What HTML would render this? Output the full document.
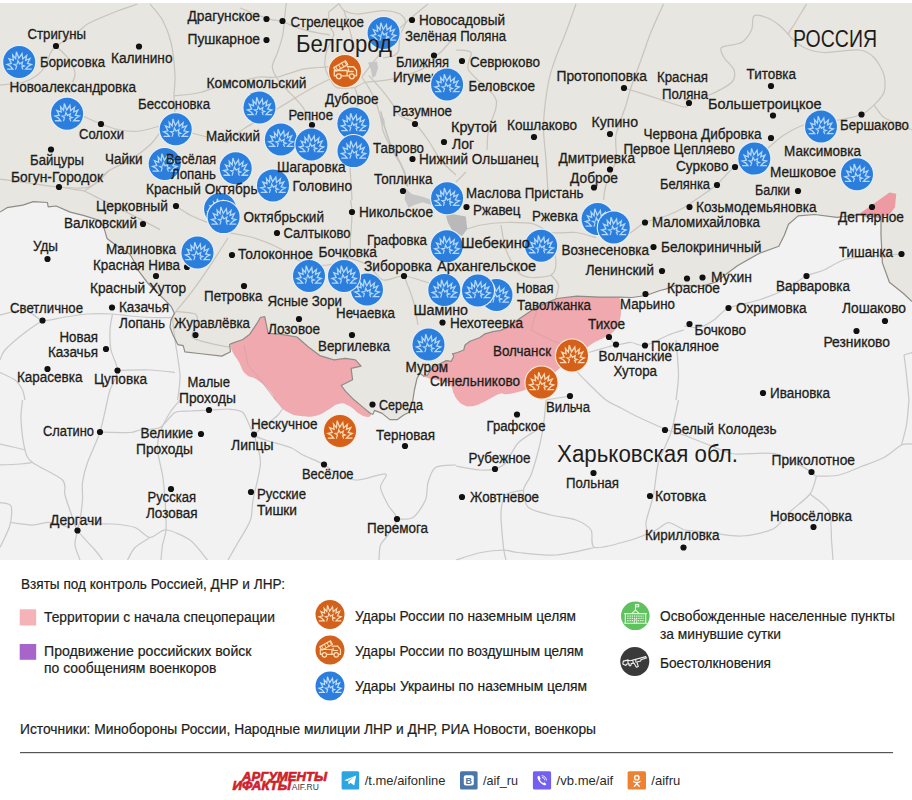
<!DOCTYPE html><html><head><meta charset="utf-8"><title>map</title><style>html,body{margin:0;padding:0;background:#fff}svg{display:block}text{font-family:"Liberation Sans",sans-serif;fill:#1d1d1b;stroke:#1d1d1b;stroke-width:0.3px}</style></head><body>
<svg width="912" height="800" viewBox="0 0 912 800">
<defs>
<g id="burst" transform="scale(0.93)" fill="none" stroke-linejoin="miter" stroke-linecap="round"><path d="M-12.6 7.6H-6.8L-9.4 4.6L-13 2.6L-8.4 1.6L-11 -3.6L-6.4 -1.8L-7 -7.4L-3.8 -3.6L-3 -11L-0.4 -4L3 -9L3.8 -3.2L8 -7L7 -1.8L11.6 -3.8L8.8 1.6L13.2 2.6L9.8 4.6L7 7.6H13" stroke-width="1.4"/><path d="M-3.8 7.6L-2.8 4.4L-5.4 2.6L-2.2 2.2L-1.4 -1.4L0.4 2L3.6 0L2.8 3.2L5.6 4.2L2.8 5.2L3.8 7.6" stroke-width="1.3"/></g>
<g id="bl"><circle r="17.1" fill="#e4f0fb"/><circle r="16" fill="#2c7edc"/><use href="#burst" stroke="#b2d8fc" y="0"/></g>
<g id="or"><circle r="17.1" fill="#fbeadb"/><circle r="16" fill="#d4601a"/><use href="#burst" stroke="#fbdcb8" y="0"/></g>
<g id="truck" transform="scale(1.07)" fill="none" stroke="#ffdcb2" stroke-width="1.25" stroke-linejoin="round" stroke-linecap="round"><path d="M-10 4.5V-0.5H2V4.5M2 -4H8L10.8 -0.5V4.5H8.8M-10 4.5H-8.2M-3.4 4.5H4"/><circle cx="-5.8" cy="5" r="2.3"/><circle cx="6.4" cy="5" r="2.3"/><path d="M-10.5 -3.2L0.5 -9.6L2.6 -6L-8.4 0.2Z"/><path d="M-8.8 -4.2L-6.8 -0.7M-6 -5.8L-4 -2.3M-3.2 -7.4L-1.2 -3.9M-0.4 -9L1.6 -5.5" stroke-width="1"/><path d="M3.2 -2V0.5H7.6"/></g>
<clipPath id="mapclip"><rect x="0" y="0" width="912" height="560.5"/></clipPath>
</defs>
<g clip-path="url(#mapclip)">
<rect x="0" y="0" width="912" height="560.5" fill="#f2f2f2"/>
<path d="M0.0 0.0 L912.0 0.0 L912.0 301.6 L912.0 301.6 L903.2 293.3 L889.4 282.2 L882.4 262.9 L881.0 235.3 L881.0 217.3 L870.0 216.5 L857.6 215.0 L836.8 217.3 L814.7 214.5 L798.2 215.9 L788.5 224.2 L784.3 235.3 L778.8 246.3 L759.5 253.2 L737.4 265.7 L715.3 282.2 L701.4 286.4 L676.6 285.0 L665.5 289.1 L660.0 290.5 L646.0 295.5 L632.0 297.5 L619.5 297.1 L619.5 297.1 L599.5 297.1 L576.7 296.2 L556.8 298.5 L536.8 307.1 L519.7 318.5 L508.3 327.0 L500.0 330.6 L493.8 331.3 L485.0 333.8 L480.0 337.5 L470.0 341.3 L465.0 345.0 L463.8 350.0 L457.5 352.5 L452.5 353.8 L453.8 356.3 L451.3 361.3 L446.3 360.6 L440.0 363.8 L432.5 367.5 L427.5 375.0 L423.8 376.3 L423.8 376.3 L420.0 373.1 L416.9 378.8 L414.4 390.0 L412.5 402.5 L408.8 412.5 L403.7 415.0 L397.5 419.6 L389.8 419.6 L382.2 413.4 L374.5 410.4 L373.0 414.2 L371.1 414.0 L371.1 414.0 L362.5 406.9 L354.0 399.8 L345.4 391.2 L341.2 385.5 L352.6 379.8 L351.1 368.4 L361.1 366.1 L355.4 359.9 L345.4 358.4 L334.0 359.9 L319.8 355.6 L308.4 347.0 L297.0 337.0 L280.0 334.2 L268.2 333.3 L266.5 325.4 L264.7 316.7 L260.4 317.5 L256.8 323.7 L249.8 334.2 L242.8 339.5 L230.5 343.9 L230.5 343.9 L229.6 344.7 L230.5 351.8 L221.8 356.1 L198.9 353.5 L184.9 351.8 L183.2 345.6 L177.9 344.7 L172.6 334.2 L170.0 327.2 L170.9 320.2 L174.4 313.2 L170.9 306.1 L160.4 295.6 L148.0 283.3 L137.5 269.3 L133.3 260.0 L129.8 254.2 L114.0 243.7 L107.0 238.4 L103.5 226.1 L98.2 220.0 L84.2 215.6 L70.2 212.1 L56.1 206.0 L48.2 206.8 L47.4 202.5 L33.3 201.6 L22.8 205.1 L7.0 207.7 L0.0 212.1Z" fill="#e8e6e0"/>
<path d="M137.5 4.0C134.7 5.0 124.5 8.2 117.5 11.0C110.5 13.8 93.5 20.6 87.5 24.0C81.5 27.4 79.4 31.9 75.0 35.0C70.6 38.1 59.5 43.3 56.0 46.0C52.5 48.7 51.4 51.3 50.0 54.0C48.6 56.7 47.8 62.1 46.0 65.0C44.2 67.9 40.8 72.5 37.5 75.0C34.2 77.5 27.8 81.1 22.5 82.5C17.2 83.9 3.2 84.6 0.0 85.0" fill="none" stroke="#c9c5be" stroke-width="1.25" stroke-linejoin="round"/>
<path d="M56.0 46.0C57.6 47.6 64.8 53.8 67.5 57.5C70.2 61.2 74.3 69.0 75.0 72.5C75.7 76.0 72.9 81.1 72.5 82.5" fill="none" stroke="#c9c5be" stroke-width="1.25" stroke-linejoin="round"/>
<path d="M150.0 4.0C151.8 6.2 159.6 14.6 162.5 20.0C165.4 25.4 169.2 34.8 171.0 42.5C172.8 50.2 174.6 67.5 175.0 75.0C175.4 82.5 174.0 90.7 174.0 96.0C174.0 101.3 174.9 110.2 175.0 112.5" fill="none" stroke="#c9c5be" stroke-width="1.25" stroke-linejoin="round"/>
<path d="M82.5 116.0C85.1 117.1 95.7 122.0 101.0 124.0C106.3 126.0 114.5 129.0 120.0 130.0C125.5 131.0 134.4 131.6 140.0 131.0C145.6 130.4 157.2 126.7 160.0 126.0" fill="none" stroke="#c9c5be" stroke-width="1.25" stroke-linejoin="round"/>
<path d="M160.0 132.5C158.6 134.3 154.2 141.1 150.0 145.0C145.8 148.9 135.6 156.5 130.0 160.0C124.4 163.5 114.2 167.2 110.0 170.0C105.8 172.8 103.2 177.5 100.0 180.0C96.8 182.5 93.2 186.5 87.5 187.5C81.8 188.5 67.8 187.7 59.0 187.0C50.2 186.3 33.3 183.6 25.0 182.5C16.7 181.4 3.5 179.5 0.0 179.0" fill="none" stroke="#c9c5be" stroke-width="1.25" stroke-linejoin="round"/>
<path d="M174.0 96.0C177.6 95.5 192.4 94.4 200.0 92.5C207.6 90.6 224.1 83.9 228.0 82.5" fill="none" stroke="#c9c5be" stroke-width="1.25" stroke-linejoin="round"/>
<path d="M190.0 132.5C195.3 133.9 222.7 141.1 228.0 142.5" fill="none" stroke="#c9c5be" stroke-width="1.25" stroke-linejoin="round"/>
<path d="M228.0 82.5C230.4 82.1 240.5 80.8 245.0 80.0C249.5 79.2 255.4 77.4 260.0 77.0C264.6 76.6 271.6 78.1 277.5 77.0C283.4 75.9 296.3 70.6 302.0 69.3C307.7 68.0 314.1 67.9 318.0 67.5C321.9 67.1 328.3 66.8 330.0 66.7" fill="none" stroke="#c9c5be" stroke-width="1.25" stroke-linejoin="round"/>
<path d="M286.3 2.6C286.1 4.7 285.1 13.0 284.6 17.5C284.1 22.0 283.8 30.1 282.8 35.0C281.8 39.9 279.0 48.2 277.5 52.6C276.0 57.0 272.3 63.0 272.3 66.7C272.3 70.4 275.3 75.6 277.5 79.0C279.7 82.4 285.5 88.3 288.0 91.0C290.5 93.7 292.8 95.5 295.0 98.0C297.2 100.5 301.5 105.0 303.9 108.8C306.3 112.6 310.9 122.7 312.0 125.0" fill="none" stroke="#c9c5be" stroke-width="1.25" stroke-linejoin="round"/>
<path d="M240.0 8.0C242.8 9.1 255.7 14.2 260.0 15.8C264.3 17.4 267.3 18.4 270.5 19.3C273.7 20.2 278.1 20.5 282.8 22.0C287.5 23.5 297.3 28.0 303.9 29.8C310.5 31.6 326.3 34.3 330.0 35.0" fill="none" stroke="#c9c5be" stroke-width="1.25" stroke-linejoin="round"/>
<path d="M339.0 3.5C339.7 4.5 341.3 9.0 344.0 10.5C346.7 12.0 352.6 14.0 358.0 14.0C363.4 14.0 376.9 10.5 382.8 10.5C388.7 10.5 396.8 12.3 400.0 14.0C403.2 15.7 405.6 19.9 405.6 22.8C405.6 25.7 401.0 31.1 400.0 35.0C399.0 38.9 399.5 48.0 398.6 50.9C397.7 53.8 395.5 55.0 393.3 56.0C391.1 57.0 384.3 57.6 382.8 57.9" fill="none" stroke="#c9c5be" stroke-width="1.25" stroke-linejoin="round"/>
<path d="M328.4 12.3C328.6 14.3 329.3 23.1 330.0 26.3C330.7 29.5 334.2 31.6 333.7 35.0C333.2 38.4 327.9 46.5 326.7 50.9C325.5 55.3 324.5 62.8 325.0 66.7C325.5 70.6 328.3 76.1 330.0 79.0C331.7 81.9 333.5 86.5 337.0 87.7C340.5 88.9 352.2 87.7 354.7 87.7" fill="none" stroke="#c9c5be" stroke-width="1.25" stroke-linejoin="round"/>
<path d="M328.4 12.3C329.9 11.1 337.5 4.7 339.0 3.5" fill="none" stroke="#c9c5be" stroke-width="1.25" stroke-linejoin="round"/>
<path d="M344.0 10.5C344.5 12.2 346.7 19.4 347.7 22.8C348.7 26.2 350.0 31.3 351.0 35.0C352.0 38.7 354.2 47.0 354.7 49.0" fill="none" stroke="#c9c5be" stroke-width="1.25" stroke-linejoin="round"/>
<path d="M330.0 79.0C327.6 80.2 317.5 85.0 312.6 87.7C307.7 90.4 299.9 95.0 295.0 98.0C290.1 101.0 282.4 105.8 277.5 108.8C272.6 111.8 264.6 116.6 260.0 119.3C255.4 122.0 249.5 125.1 245.0 128.0C240.5 130.9 230.4 138.3 228.0 140.0" fill="none" stroke="#c9c5be" stroke-width="1.25" stroke-linejoin="round"/>
<path d="M361.8 77.2C363.3 75.2 369.4 66.9 372.3 63.2C375.2 59.5 379.9 54.8 382.8 50.9C385.7 47.0 390.1 38.9 393.3 35.0C396.5 31.1 401.9 26.2 405.6 22.8C409.3 19.4 416.9 13.1 420.0 10.5C423.1 7.9 426.9 4.9 428.0 4.0" fill="none" stroke="#c9c5be" stroke-width="1.25" stroke-linejoin="round"/>
<path d="M354.7 87.7C356.2 87.0 361.4 83.5 365.3 82.5C369.2 81.5 377.9 81.4 382.8 80.7C387.7 80.0 394.8 78.7 400.0 77.2C405.2 75.7 415.2 72.1 420.0 70.0C424.8 67.9 432.0 63.1 434.0 62.0" fill="none" stroke="#c9c5be" stroke-width="1.25" stroke-linejoin="round"/>
<path d="M361.8 77.2C362.8 78.7 366.8 84.3 368.8 87.7C370.8 91.1 374.1 97.4 375.8 101.8C377.5 106.2 380.0 115.4 381.0 119.3C382.0 123.2 381.8 126.8 382.8 130.0C383.8 133.2 385.9 138.1 388.0 142.0C390.1 145.9 395.8 153.8 398.0 158.0C400.2 162.2 402.7 168.1 404.0 172.0C405.3 175.9 406.6 184.0 407.0 186.0" fill="none" stroke="#c9c5be" stroke-width="1.25" stroke-linejoin="round"/>
<path d="M368.8 75.4C370.8 77.6 379.4 87.0 382.8 91.2C386.2 95.4 390.9 101.9 393.3 105.3C395.7 108.7 397.0 113.3 400.0 115.8C403.0 118.3 410.5 119.4 414.4 122.8C418.3 126.2 424.3 134.8 428.0 140.0C431.7 145.2 436.6 155.1 440.5 160.0C444.4 164.9 453.8 172.9 456.0 175.0" fill="none" stroke="#c9c5be" stroke-width="1.25" stroke-linejoin="round"/>
<path d="M348.0 140.0C348.4 144.9 349.9 166.6 350.5 175.0C351.1 183.4 351.8 196.5 352.0 200.0" fill="none" stroke="#c9c5be" stroke-width="1.25" stroke-linejoin="round"/>
<path d="M456.0 35.0C453.8 37.5 443.6 49.6 440.5 52.5C437.4 55.4 434.9 55.1 434.0 55.5" fill="none" stroke="#c9c5be" stroke-width="1.25" stroke-linejoin="round"/>
<path d="M354.7 87.7C355.2 89.4 358.2 95.1 358.0 100.0C357.8 104.9 353.7 119.8 353.0 123.0" fill="none" stroke="#c9c5be" stroke-width="1.25" stroke-linejoin="round"/>
<path d="M576.0 4.0C574.6 7.9 568.8 24.6 566.0 32.0C563.2 39.4 558.5 50.0 556.0 57.0C553.5 64.0 550.3 72.5 548.5 82.0C546.7 91.5 543.9 114.1 543.5 125.0C543.1 135.9 545.3 149.5 546.0 160.0C546.7 170.5 548.1 194.4 548.5 200.0" fill="none" stroke="#c9c5be" stroke-width="1.25" stroke-linejoin="round"/>
<path d="M663.5 4.0C661.7 7.9 654.2 24.2 651.0 32.0C647.8 39.8 643.8 52.2 641.0 60.0C638.2 67.8 633.1 81.2 631.0 87.5C628.9 93.8 628.1 98.3 626.0 105.0C623.9 111.7 617.4 127.3 616.0 135.0C614.6 142.7 617.4 153.0 616.0 160.0C614.6 167.0 607.8 179.4 606.0 185.0C604.2 190.6 603.9 197.9 603.5 200.0" fill="none" stroke="#c9c5be" stroke-width="1.25" stroke-linejoin="round"/>
<path d="M624.0 88.0C628.5 89.4 647.6 95.3 656.0 98.0C664.4 100.7 679.4 106.3 684.0 107.0C688.6 107.7 688.3 103.6 689.0 103.0" fill="none" stroke="#c9c5be" stroke-width="1.25" stroke-linejoin="round"/>
<path d="M456.0 50.0C458.1 50.4 469.2 49.7 471.0 52.5C472.8 55.3 465.3 64.0 468.5 70.0C471.7 76.0 489.6 89.7 493.5 95.0C497.4 100.3 496.7 102.6 496.0 107.5C495.3 112.4 489.8 124.0 488.5 130.0C487.2 136.0 487.2 147.2 487.0 150.0" fill="none" stroke="#c9c5be" stroke-width="1.25" stroke-linejoin="round"/>
<path d="M456.0 182.0C457.4 180.6 464.6 173.4 466.0 172.0" fill="none" stroke="#c9c5be" stroke-width="1.25" stroke-linejoin="round"/>
<path d="M806.5 4.0C805.8 5.2 803.3 9.6 801.5 12.5C799.7 15.4 795.8 21.8 794.0 25.0C792.2 28.2 787.6 31.8 789.0 35.0C790.4 38.2 799.1 45.0 804.0 47.5C808.9 50.0 816.3 52.1 824.0 52.5C831.7 52.9 852.0 49.3 859.0 50.0C866.0 50.7 870.5 54.0 874.0 57.5C877.5 61.0 882.6 70.1 884.0 75.0C885.4 79.9 885.4 88.3 884.0 92.5C882.6 96.7 877.2 101.9 874.0 105.0C870.8 108.1 866.4 112.4 861.5 114.5C856.6 116.6 847.1 118.5 839.0 120.0C830.9 121.5 811.7 122.9 804.0 125.0C796.3 127.1 788.6 132.2 784.0 135.0C779.4 137.8 775.0 142.2 771.5 145.0C768.0 147.8 764.3 151.8 759.0 155.0C753.7 158.2 740.0 163.3 734.0 167.5C728.0 171.7 721.4 180.8 716.5 185.0C711.6 189.2 701.5 195.7 699.0 197.5" fill="none" stroke="#c9c5be" stroke-width="1.25" stroke-linejoin="round"/>
<path d="M789.0 35.0C787.6 33.6 782.2 27.5 779.0 25.0C775.8 22.5 770.0 18.8 766.5 17.5C763.0 16.2 756.1 14.2 754.0 16.0C751.9 17.8 753.3 26.3 751.5 30.0C749.7 33.7 745.7 40.0 741.5 42.5C737.3 45.0 724.0 45.4 721.5 47.5C719.0 49.6 722.2 54.3 724.0 57.5C725.8 60.7 732.9 66.5 734.0 70.0C735.1 73.5 735.0 79.0 731.5 82.5C728.0 86.0 715.7 92.5 709.0 95.0C702.3 97.5 687.5 99.3 684.0 100.0" fill="none" stroke="#c9c5be" stroke-width="1.25" stroke-linejoin="round"/>
<path d="M874.0 105.0C875.4 106.8 880.1 114.7 884.0 117.5C887.9 120.3 897.6 123.2 901.5 125.0C905.4 126.8 910.5 129.3 912.0 130.0" fill="none" stroke="#c9c5be" stroke-width="1.25" stroke-linejoin="round"/>
<path d="M59.0 187.0C61.1 187.3 70.2 188.7 73.7 189.3C77.2 189.9 80.8 189.8 84.2 191.0C87.6 192.2 94.3 196.0 98.2 198.0C102.1 200.0 107.4 202.5 112.3 205.0C117.2 207.5 126.6 212.2 133.3 215.6C140.0 219.0 156.3 227.6 160.0 229.6" fill="none" stroke="#c9c5be" stroke-width="1.25" stroke-linejoin="round"/>
<path d="M84.2 191.0C85.7 190.0 91.7 186.5 94.7 184.0C97.7 181.5 103.2 175.5 105.3 173.5C107.4 171.5 109.3 170.5 110.0 170.0" fill="none" stroke="#c9c5be" stroke-width="1.25" stroke-linejoin="round"/>
<path d="M176.0 206.0C178.0 207.3 185.6 212.7 190.0 215.0C194.4 217.3 205.0 221.4 207.5 222.5" fill="none" stroke="#c9c5be" stroke-width="1.25" stroke-linejoin="round"/>
<path d="M228.0 238.0C225.2 242.4 213.0 261.5 207.7 269.3C202.4 277.1 194.6 288.0 190.2 293.9C185.8 299.8 178.8 307.7 176.1 311.4C173.4 315.1 171.6 319.0 170.9 320.2" fill="none" stroke="#c9c5be" stroke-width="1.25" stroke-linejoin="round"/>
<path d="M176.1 311.4C178.8 311.8 192.4 312.3 195.4 314.0C198.4 315.7 197.6 320.4 197.2 323.7C196.8 327.0 188.9 334.5 192.8 337.7C196.7 340.9 220.0 345.4 225.3 346.5C230.6 347.6 229.8 345.7 230.5 345.6" fill="none" stroke="#c9c5be" stroke-width="1.25" stroke-linejoin="round"/>
<path d="M228.0 232.5C231.5 233.2 246.0 235.4 253.0 237.5C260.0 239.6 271.0 244.0 278.0 247.5C285.0 251.0 296.0 260.0 303.0 262.5C310.0 265.0 321.7 265.7 328.0 265.0C334.3 264.3 344.8 261.4 348.0 257.5C351.2 253.6 349.9 243.9 350.5 237.5C351.1 231.1 352.0 217.3 352.0 212.0C352.0 206.7 350.7 201.7 350.5 200.0" fill="none" stroke="#c9c5be" stroke-width="1.25" stroke-linejoin="round"/>
<path d="M348.0 257.5C350.8 258.6 363.1 261.8 368.0 265.0C372.9 268.2 378.0 278.5 383.0 280.0C388.0 281.5 397.7 275.6 404.0 276.0C410.3 276.4 422.2 281.2 428.0 282.5C433.8 283.8 443.0 284.6 445.5 285.0" fill="none" stroke="#c9c5be" stroke-width="1.25" stroke-linejoin="round"/>
<path d="M404.0 276.0C405.3 279.4 411.0 293.1 413.0 300.0C415.0 306.9 417.3 321.5 418.0 325.0" fill="none" stroke="#c9c5be" stroke-width="1.25" stroke-linejoin="round"/>
<path d="M456.0 232.5C459.5 231.4 474.0 226.4 481.0 225.0C488.0 223.6 498.6 222.6 506.0 222.5C513.4 222.4 527.2 222.6 533.5 224.0C539.8 225.4 545.0 231.3 551.0 232.5C557.0 233.7 569.7 231.8 576.0 232.5C582.3 233.2 593.2 236.8 596.0 237.5" fill="none" stroke="#c9c5be" stroke-width="1.25" stroke-linejoin="round"/>
<path d="M501.0 225.0C501.7 228.5 503.5 243.3 506.0 250.0C508.5 256.7 515.0 268.6 518.5 272.5C522.0 276.4 526.4 277.1 531.0 277.5C535.6 277.9 547.5 277.1 551.0 275.0C554.5 272.9 556.0 268.5 556.0 262.5C556.0 256.5 551.7 236.7 551.0 232.5" fill="none" stroke="#c9c5be" stroke-width="1.25" stroke-linejoin="round"/>
<path d="M551.0 275.0C552.1 276.4 557.8 281.8 558.5 285.0C559.2 288.2 556.4 295.7 556.0 297.5" fill="none" stroke="#c9c5be" stroke-width="1.25" stroke-linejoin="round"/>
<path d="M616.0 242.5C618.1 241.1 626.9 235.3 631.0 232.5C635.1 229.7 639.7 225.0 645.0 222.5C650.3 220.0 663.0 217.1 668.5 215.0C674.0 212.9 679.7 210.0 684.0 207.5C688.3 205.0 696.9 198.9 699.0 197.5" fill="none" stroke="#c9c5be" stroke-width="1.25" stroke-linejoin="round"/>
<path d="M0.0 315.0C3.5 314.3 19.0 309.2 25.0 310.0C31.0 310.8 37.2 319.4 42.5 320.5C47.8 321.6 56.2 318.4 62.5 317.5C68.8 316.6 80.6 314.5 87.5 314.0C94.4 313.5 106.0 313.7 112.0 314.0C118.0 314.3 124.7 315.5 130.0 316.0C135.3 316.5 144.0 317.3 150.0 317.5C156.0 317.7 169.3 317.5 172.5 317.5" fill="none" stroke="#c9c9c9" stroke-width="1.25" stroke-linejoin="round"/>
<path d="M42.5 320.5C40.0 322.2 30.3 328.4 25.0 332.5C19.7 336.6 8.5 346.1 5.0 350.0C1.5 353.9 0.7 358.6 0.0 360.0" fill="none" stroke="#c9c9c9" stroke-width="1.25" stroke-linejoin="round"/>
<path d="M112.5 314.0C112.1 316.2 110.2 325.0 110.0 330.0C109.8 335.0 109.9 344.3 111.0 350.0C112.1 355.7 117.6 364.9 117.5 370.5C117.4 376.1 111.4 385.9 110.0 390.0C108.6 394.1 107.9 398.6 107.5 400.0" fill="none" stroke="#c9c9c9" stroke-width="1.25" stroke-linejoin="round"/>
<path d="M0.0 372.5C2.1 373.6 11.8 377.5 15.0 380.0C18.2 382.5 21.1 387.2 22.5 390.0C23.9 392.8 24.6 398.6 25.0 400.0" fill="none" stroke="#c9c9c9" stroke-width="1.25" stroke-linejoin="round"/>
<path d="M117.5 370.5C122.1 370.4 141.9 369.7 150.0 370.0C158.1 370.3 171.5 372.1 175.0 372.5" fill="none" stroke="#c9c9c9" stroke-width="1.25" stroke-linejoin="round"/>
<path d="M172.5 317.5C172.9 320.7 173.9 331.9 175.0 340.0C176.1 348.1 179.6 366.6 180.0 375.0C180.4 383.4 177.9 396.5 177.5 400.0" fill="none" stroke="#c9c9c9" stroke-width="1.25" stroke-linejoin="round"/>
<path d="M107.5 400.0C106.4 404.5 102.8 423.2 100.0 432.0C97.2 440.8 90.0 455.4 87.5 462.5C85.0 469.6 83.2 477.2 82.5 482.5C81.8 487.8 82.9 494.7 82.5 500.0C82.1 505.3 80.7 515.7 80.0 520.0C79.3 524.3 78.2 527.0 77.5 530.5C76.8 534.0 74.6 540.9 75.0 545.0C75.4 549.1 79.3 557.9 80.0 560.0" fill="none" stroke="#c9c9c9" stroke-width="1.25" stroke-linejoin="round"/>
<path d="M22.5 400.0C22.3 402.8 20.6 413.0 21.0 420.0C21.4 427.0 23.4 444.0 25.0 450.0C26.6 456.0 27.2 458.3 32.5 462.5C37.8 466.7 57.9 475.4 62.5 480.0C67.1 484.6 63.6 489.7 65.0 495.0C66.4 500.3 70.7 512.5 72.5 517.5C74.3 522.5 74.3 525.9 77.5 530.5C80.7 535.1 91.5 545.9 95.0 550.0C98.5 554.1 101.4 558.6 102.5 560.0" fill="none" stroke="#c9c9c9" stroke-width="1.25" stroke-linejoin="round"/>
<path d="M0.0 444.0C2.1 444.5 11.5 446.7 15.0 447.5C18.5 448.3 23.6 449.6 25.0 450.0" fill="none" stroke="#c9c9c9" stroke-width="1.25" stroke-linejoin="round"/>
<path d="M0.0 465.0C2.8 464.9 15.4 464.4 20.0 464.0C24.6 463.6 30.7 462.7 32.5 462.5" fill="none" stroke="#c9c9c9" stroke-width="1.25" stroke-linejoin="round"/>
<path d="M0.0 502.5C1.5 503.0 9.6 502.8 11.0 506.0C12.4 509.2 11.5 519.2 10.0 525.0C8.5 530.8 1.4 544.3 0.0 547.5" fill="none" stroke="#c9c9c9" stroke-width="1.25" stroke-linejoin="round"/>
<path d="M11.0 522.5C14.0 522.9 27.0 525.0 32.5 525.0C38.0 525.0 44.7 522.1 50.0 522.5C55.3 522.9 67.2 526.8 70.0 527.5" fill="none" stroke="#c9c9c9" stroke-width="1.25" stroke-linejoin="round"/>
<path d="M100.0 432.0C104.2 432.1 124.4 432.8 130.0 432.5C135.6 432.2 135.8 430.7 140.0 430.0C144.2 429.3 155.1 430.0 160.0 427.5C164.9 425.0 170.8 414.8 175.0 412.5C179.2 410.2 185.2 411.4 190.0 411.0C194.8 410.6 204.2 410.3 209.5 410.0C214.8 409.7 225.4 409.1 228.0 409.0" fill="none" stroke="#c9c9c9" stroke-width="1.25" stroke-linejoin="round"/>
<path d="M180.0 400.0C178.6 401.8 172.8 407.9 170.0 412.5C167.2 417.1 161.8 427.2 160.0 432.5C158.2 437.8 157.1 444.0 157.5 450.0C157.9 456.0 161.4 468.0 162.5 475.0C163.6 482.0 164.5 492.3 165.0 500.0C165.5 507.7 166.4 523.7 166.0 530.0C165.6 536.3 163.2 540.8 162.5 545.0C161.8 549.2 161.2 557.9 161.0 560.0" fill="none" stroke="#c9c9c9" stroke-width="1.25" stroke-linejoin="round"/>
<path d="M82.5 524.0C86.7 524.0 105.1 523.5 112.5 524.0C119.9 524.5 129.7 525.6 135.0 527.5C140.3 529.4 145.7 537.1 150.0 537.5C154.3 537.9 160.4 529.6 166.0 530.0C171.6 530.4 184.2 535.8 190.0 540.0C195.8 544.2 205.0 557.2 207.5 560.0" fill="none" stroke="#c9c9c9" stroke-width="1.25" stroke-linejoin="round"/>
<path d="M127.5 560.0C128.6 558.2 131.8 550.7 135.0 547.5C138.2 544.3 147.9 538.9 150.0 537.5" fill="none" stroke="#c9c9c9" stroke-width="1.25" stroke-linejoin="round"/>
<path d="M228.0 409.0C230.1 409.5 239.4 408.9 243.0 412.5C246.6 416.1 250.8 430.6 254.0 434.5C257.2 438.4 260.4 438.2 265.5 440.0C270.6 441.8 285.2 445.4 290.5 447.5C295.8 449.6 298.3 452.6 303.0 455.0C307.7 457.4 319.1 461.7 324.0 464.5C328.9 467.3 333.2 472.8 338.0 475.0C342.8 477.2 351.3 480.1 358.0 480.0C364.7 479.9 382.3 472.9 385.5 474.0C388.7 475.1 380.1 483.2 380.5 487.5C380.9 491.8 385.7 500.6 388.0 505.0C390.3 509.4 397.0 514.8 397.0 519.0C397.0 523.2 390.3 531.4 388.0 535.0C385.7 538.6 381.8 541.5 380.5 545.0C379.2 548.5 379.2 557.9 379.0 560.0" fill="none" stroke="#c9c9c9" stroke-width="1.25" stroke-linejoin="round"/>
<path d="M254.0 434.5C254.9 438.4 260.6 453.3 260.5 462.5C260.4 471.7 254.4 491.9 253.0 500.0C251.6 508.1 252.6 514.0 250.5 520.0C248.4 526.0 241.2 536.9 238.0 542.5C234.8 548.1 229.4 557.5 228.0 560.0" fill="none" stroke="#c9c9c9" stroke-width="1.25" stroke-linejoin="round"/>
<path d="M397.0 519.0C399.2 518.8 409.0 520.2 413.0 517.5C417.0 514.8 423.4 504.9 425.5 500.0C427.6 495.1 426.6 487.1 428.0 482.5C429.4 477.9 431.6 470.0 435.5 467.5C439.4 465.0 453.1 465.4 456.0 465.0" fill="none" stroke="#c9c9c9" stroke-width="1.25" stroke-linejoin="round"/>
<path d="M254.0 434.5C255.6 433.2 262.1 427.7 265.5 425.0C268.9 422.3 274.8 418.5 278.0 415.0C281.2 411.5 286.6 402.1 288.0 400.0" fill="none" stroke="#c9c9c9" stroke-width="1.25" stroke-linejoin="round"/>
<path d="M546.0 400.0C545.6 403.5 544.6 418.0 543.5 425.0C542.4 432.0 540.3 443.0 538.5 450.0C536.7 457.0 533.1 469.4 531.0 475.0C528.9 480.6 523.9 485.4 523.5 490.0C523.1 494.6 524.6 504.0 528.5 507.5C532.4 511.0 544.3 513.2 551.0 515.0C557.7 516.8 570.4 517.9 576.0 520.0C581.6 522.1 588.3 526.1 591.0 530.0C593.7 533.9 589.4 546.1 595.0 547.5C600.6 548.9 622.5 542.5 631.0 540.0C639.5 537.5 650.7 532.5 656.0 530.0C661.3 527.5 664.6 522.5 668.5 522.5C672.4 522.5 681.8 528.9 684.0 530.0" fill="none" stroke="#c9c9c9" stroke-width="1.25" stroke-linejoin="round"/>
<path d="M456.0 466.0C459.5 466.6 475.5 469.6 481.0 470.0C486.5 470.4 491.5 470.1 495.0 469.0C498.5 467.9 502.7 466.2 506.0 462.5C509.3 458.8 513.6 447.4 518.5 442.5C523.4 437.6 537.8 429.6 541.0 427.5" fill="none" stroke="#c9c9c9" stroke-width="1.25" stroke-linejoin="round"/>
<path d="M523.5 490.0C521.0 490.7 509.2 491.8 506.0 495.0C502.8 498.2 501.4 505.1 501.0 512.5C500.6 519.9 502.8 540.8 503.5 547.5C504.2 554.2 505.6 558.2 506.0 560.0" fill="none" stroke="#c9c9c9" stroke-width="1.25" stroke-linejoin="round"/>
<path d="M456.0 560.0C459.5 558.9 474.3 553.9 481.0 552.5C487.7 551.1 498.2 550.0 503.5 550.0C508.8 550.0 511.1 551.8 518.5 552.5C525.9 553.2 545.3 555.7 556.0 555.0C566.7 554.3 589.5 548.6 595.0 547.5" fill="none" stroke="#c9c9c9" stroke-width="1.25" stroke-linejoin="round"/>
<path d="M678.5 400.0C677.4 404.6 673.8 423.7 671.0 432.5C668.2 441.3 661.0 453.7 658.5 462.5C656.0 471.3 655.3 486.6 653.5 495.0C651.7 503.4 646.7 516.9 646.0 522.5C645.3 528.1 648.1 533.2 648.5 535.0" fill="none" stroke="#c9c9c9" stroke-width="1.25" stroke-linejoin="round"/>
<path d="M684.0 435.0C687.5 436.4 702.0 442.3 709.0 445.0C716.0 447.7 724.5 452.7 734.0 454.0C743.5 455.3 765.6 451.5 776.5 454.0C787.4 456.5 805.9 468.9 811.5 472.0C817.1 475.1 812.6 475.6 816.5 476.0C820.4 476.4 833.0 476.2 839.0 475.0C845.0 473.8 852.7 470.0 859.0 467.5C865.3 465.0 878.0 460.7 884.0 457.5C890.0 454.3 897.6 446.9 901.5 445.0C905.4 443.1 910.5 444.1 912.0 444.0" fill="none" stroke="#c9c9c9" stroke-width="1.25" stroke-linejoin="round"/>
<path d="M909.0 400.0C908.6 403.5 907.6 418.7 906.5 425.0C905.4 431.3 902.2 442.2 901.5 445.0" fill="none" stroke="#c9c9c9" stroke-width="1.25" stroke-linejoin="round"/>
<path d="M816.5 476.0C815.6 478.5 813.9 488.9 810.0 494.0C806.1 499.1 794.2 507.6 789.0 512.5C783.8 517.4 779.7 525.7 773.0 529.0C766.3 532.3 750.5 535.5 741.5 536.0C732.5 536.5 717.1 533.3 709.0 532.5C700.9 531.7 687.5 530.4 684.0 530.0" fill="none" stroke="#c9c9c9" stroke-width="1.25" stroke-linejoin="round"/>
<path d="M810.0 494.0C812.7 496.4 826.0 504.6 829.0 511.0C832.0 517.4 830.9 533.1 831.5 540.0C832.1 546.9 832.8 557.2 833.0 560.0" fill="none" stroke="#c9c9c9" stroke-width="1.25" stroke-linejoin="round"/>
<path d="M684.0 326.0C686.1 326.2 694.8 328.3 699.0 327.5C703.2 326.7 709.9 322.7 714.0 320.0C718.1 317.3 722.2 310.8 728.5 308.0C734.8 305.2 751.2 302.5 759.0 300.0C766.8 297.5 777.3 293.4 784.0 290.0C790.7 286.6 800.9 278.8 806.5 276.0C812.1 273.2 818.4 272.4 824.0 270.0C829.6 267.6 838.1 261.1 846.5 259.0C854.9 256.9 876.3 255.7 884.0 255.0C891.7 254.3 899.0 254.1 901.5 254.0" fill="none" stroke="#c9c9c9" stroke-width="1.25" stroke-linejoin="round"/>
<path d="M904.0 355.0C904.4 357.8 905.8 368.7 906.5 375.0C907.2 381.3 908.6 396.5 909.0 400.0" fill="none" stroke="#c9c9c9" stroke-width="1.25" stroke-linejoin="round"/>
<path d="M904.0 355.0C905.1 354.6 910.9 352.9 912.0 352.5" fill="none" stroke="#c9c9c9" stroke-width="1.25" stroke-linejoin="round"/>
<path d="M609.0 337.0C610.0 338.1 612.9 343.7 616.0 344.5C619.1 345.3 626.9 342.4 631.0 342.5C635.1 342.6 639.7 346.6 645.0 345.5C650.3 344.4 663.0 337.2 668.5 335.0C674.0 332.8 681.8 330.7 684.0 330.0" fill="none" stroke="#c9c9c9" stroke-width="1.25" stroke-linejoin="round"/>
<path d="M588.5 352.5C591.0 351.8 602.1 348.6 606.0 347.5C609.9 346.4 614.6 344.9 616.0 344.5" fill="none" stroke="#c9c9c9" stroke-width="1.25" stroke-linejoin="round"/>
<path d="M572.0 356.0C572.6 358.0 573.5 365.9 576.0 370.0C578.5 374.1 585.8 380.8 590.0 385.0C594.2 389.2 601.7 396.8 606.0 400.0C610.3 403.2 616.8 405.8 621.0 408.0C625.2 410.2 629.8 413.1 636.0 416.0C642.2 418.9 658.3 426.3 665.0 429.0C671.7 431.7 681.3 434.2 684.0 435.0" fill="none" stroke="#c9c9c9" stroke-width="1.25" stroke-linejoin="round"/>
<path d="M676.0 340.0C676.4 344.9 678.5 366.6 678.5 375.0C678.5 383.4 676.4 396.5 676.0 400.0" fill="none" stroke="#c9c9c9" stroke-width="1.25" stroke-linejoin="round"/>
<path d="M570.0 396.0C566.6 396.6 549.4 399.4 546.0 400.0" fill="none" stroke="#c9c9c9" stroke-width="1.25" stroke-linejoin="round"/>
<path d="M381.0 112.0 L383.0 122.0 L386.7 133.5 L392.2 150.0 L399.0 161.0 L404.6 172.0 L407.4 186.0" fill="none" stroke="#c3c3c3" stroke-width="1.6" stroke-linejoin="round" stroke-linecap="round"/>
<path d="M440.0 208.0 L446.0 213.0" fill="none" stroke="#c3c3c3" stroke-width="4.0" stroke-linejoin="round" stroke-linecap="round"/>
<path d="M368.0 62.5 L377.0 61.5 L378.0 68.0 L375.5 76.0 L372.5 78.0 L371.0 70.0Z" fill="#c6c6c6"/>
<path d="M380.0 117.0 L384.0 118.0 L385.0 124.0 L381.5 125.0Z" fill="#c6c6c6"/>
<path d="M406.0 188.5 L411.5 194.0 L422.5 196.7 L430.7 199.5 L440.0 205.0 L433.5 205.5 L422.5 202.2 L414.2 205.0 L408.7 207.7 L404.6 199.5Z" fill="#c6c6c6"/>
<path d="M445.0 212.0 L452.0 214.0 L465.8 216.5 L467.3 229.0 L462.0 236.0 L453.0 231.5 L448.0 223.0Z" fill="#b9b9b9"/>
<path d="M230.5 343.9 L242.8 339.5 L249.8 334.2 L256.8 323.7 L260.4 317.5 L264.7 316.7 L266.5 325.4 L268.2 333.3 L280.0 334.2 L297.0 337.0 L308.4 347.0 L319.8 355.6 L334.0 359.9 L345.4 358.4 L355.4 359.9 L361.1 366.1 L351.1 368.4 L352.6 379.8 L341.2 385.5 L345.4 391.2 L354.0 399.8 L362.5 406.9 L371.1 414.0L371.1 414.0C370.4 414.7 371.1 416.9 368.2 416.9C365.3 416.9 364.7 416.9 359.7 414.0C354.7 411.1 353.7 408.0 348.3 405.5C342.9 403.0 343.3 402.9 338.3 404.0C333.3 405.1 333.7 406.9 328.3 409.8C322.9 412.7 323.3 413.9 316.9 415.5C310.5 417.1 309.8 417.0 302.7 416.3C295.6 415.6 294.8 416.0 288.4 412.6C282.0 409.2 281.6 408.0 277.0 402.6C272.4 397.2 274.9 396.9 269.9 391.2C264.9 385.5 263.2 384.1 257.1 379.8C251.0 375.5 250.4 378.7 245.7 374.1C241.0 369.5 241.8 366.9 238.5 361.3C235.2 355.7 234.5 356.2 232.5 351.8C230.5 347.4 231.0 345.9 230.5 343.9Z" fill="#f0a9ae"/>
<path d="M423.8 376.3 L427.5 375.0 L432.5 367.5 L440.0 363.8 L446.3 360.6 L451.3 361.3 L453.8 356.3 L452.5 353.8 L457.5 352.5 L463.8 350.0 L465.0 345.0 L470.0 341.3 L480.0 337.5 L485.0 333.8 L493.8 331.3 L500.0 330.6 L508.3 327.0 L519.7 318.5 L536.8 307.1 L556.8 298.5 L576.7 296.2 L599.5 297.1 L619.5 297.1L619.5 297.1C619.9 299.6 620.9 301.0 620.9 307.1C620.9 313.2 621.3 315.2 619.5 321.3C617.7 327.4 617.4 327.4 613.8 331.3C610.2 335.2 610.2 334.1 605.2 337.0C600.2 339.9 598.8 339.8 593.8 342.7C588.8 345.6 590.8 345.1 585.3 348.4C579.8 351.7 578.4 351.0 572.0 356.0C565.6 361.0 567.2 361.6 559.6 368.3C552.0 375.0 550.3 377.2 541.7 382.6C533.1 388.0 533.8 386.8 525.4 389.7C517.0 392.6 514.7 393.0 508.3 394.0C501.9 395.0 504.6 392.6 500.0 393.8C495.4 395.0 495.0 396.3 490.0 398.8C485.0 401.3 484.7 401.9 480.0 403.8C475.3 405.7 475.4 406.0 471.3 406.3C467.2 406.6 467.3 406.6 463.8 405.0C460.3 403.4 460.0 402.8 457.5 400.0C455.0 397.2 455.7 397.6 453.8 393.8C451.9 390.0 453.5 388.2 450.0 385.0C446.5 381.8 445.0 382.6 440.0 381.0C435.0 379.4 434.1 380.0 430.0 378.8C425.9 377.6 425.4 376.9 423.8 376.3Z" fill="#f0a9ae"/>
<path d="M857.6 215.0 L872.0 205.0 L889.4 192.4 L896.3 193.8 L894.9 207.6 L889.4 214.5 L881.0 217.3 L870.0 216.5Z" fill="#ee9aa2"/>
<path d="M244.0 345.0 L248.0 365.0 L260.5 380.0 L275.5 400.0" fill="none" stroke="#d9a3a6" stroke-width="1" stroke-linejoin="round"/>
<path d="M538.5 305.0 L531.0 330.0 L551.0 340.0 L563.5 345.0" fill="none" stroke="#d9a3a6" stroke-width="1" stroke-linejoin="round"/>
<path d="M0.0 212.1 L7.0 207.7 L22.8 205.1 L33.3 201.6 L47.4 202.5 L48.2 206.8 L56.1 206.0 L70.2 212.1 L84.2 215.6 L98.2 220.0 L103.5 226.1 L107.0 238.4 L114.0 243.7 L129.8 254.2 L133.3 260.0 L137.5 269.3 L148.0 283.3 L160.4 295.6 L170.9 306.1 L174.4 313.2 L170.9 320.2 L170.0 327.2 L172.6 334.2 L177.9 344.7 L183.2 345.6 L184.9 351.8 L198.9 353.5 L221.8 356.1 L230.5 351.8 L229.6 344.7 L230.5 343.9 L242.8 339.5 L249.8 334.2 L256.8 323.7 L260.4 317.5 L264.7 316.7 L266.5 325.4 L268.2 333.3 L280.0 334.2 L297.0 337.0 L308.4 347.0 L319.8 355.6 L334.0 359.9 L345.4 358.4 L355.4 359.9 L361.1 366.1 L351.1 368.4 L352.6 379.8 L341.2 385.5 L345.4 391.2 L354.0 399.8 L362.5 406.9 L371.1 414.0 L373.0 414.2 L374.5 410.4 L382.2 413.4 L389.8 419.6 L397.5 419.6 L403.7 415.0 L408.8 412.5 L412.5 402.5 L414.4 390.0 L416.9 378.8 L420.0 373.1 L423.8 376.3 L427.5 375.0 L432.5 367.5 L440.0 363.8 L446.3 360.6 L451.3 361.3 L453.8 356.3 L452.5 353.8 L457.5 352.5 L463.8 350.0 L465.0 345.0 L470.0 341.3 L480.0 337.5 L485.0 333.8 L493.8 331.3 L500.0 330.6 L508.3 327.0 L519.7 318.5 L536.8 307.1 L556.8 298.5 L576.7 296.2 L599.5 297.1 L619.5 297.1 L632.0 297.5 L646.0 295.5 L660.0 290.5 L665.5 289.1 L676.6 285.0 L701.4 286.4 L715.3 282.2 L737.4 265.7 L759.5 253.2 L778.8 246.3 L784.3 235.3 L788.5 224.2 L798.2 215.9 L814.7 214.5 L836.8 217.3 L857.6 215.0 L870.0 216.5 L881.0 217.3 L881.0 235.3 L882.4 262.9 L889.4 282.2 L903.2 293.3 L912.0 301.6" fill="none" stroke="#8f8b86" stroke-width="1.2" stroke-linejoin="round"/>
<rect x="0" y="0" width="912" height="3" fill="#fff"/>
<circle cx="56.0" cy="46.0" r="3.1" fill="#111"/>
<circle cx="139.0" cy="46.5" r="3.1" fill="#111"/>
<circle cx="101.0" cy="124.0" r="3.1" fill="#111"/>
<circle cx="51.0" cy="149.5" r="3.1" fill="#111"/>
<circle cx="59.0" cy="187.0" r="3.1" fill="#111"/>
<circle cx="266.5" cy="19.0" r="3.1" fill="#111"/>
<circle cx="266.5" cy="40.0" r="3.1" fill="#111"/>
<circle cx="282.5" cy="21.0" r="3.1" fill="#111"/>
<circle cx="412.0" cy="20.0" r="3.1" fill="#111"/>
<circle cx="434.0" cy="55.5" r="3.1" fill="#111"/>
<circle cx="312.0" cy="125.0" r="3.1" fill="#111"/>
<circle cx="415.0" cy="124.0" r="3.1" fill="#111"/>
<circle cx="403.0" cy="191.0" r="3.1" fill="#111"/>
<circle cx="412.5" cy="159.0" r="3.1" fill="#111"/>
<circle cx="444.0" cy="142.0" r="3.1" fill="#111"/>
<circle cx="462.0" cy="61.0" r="3.1" fill="#111"/>
<circle cx="534.0" cy="137.0" r="3.1" fill="#111"/>
<circle cx="624.0" cy="88.0" r="3.1" fill="#111"/>
<circle cx="610.0" cy="134.0" r="3.1" fill="#111"/>
<circle cx="610.0" cy="169.5" r="3.1" fill="#111"/>
<circle cx="594.0" cy="187.5" r="3.1" fill="#111"/>
<circle cx="689.0" cy="103.0" r="3.1" fill="#111"/>
<circle cx="771.0" cy="138.0" r="3.1" fill="#111"/>
<circle cx="735.0" cy="167.0" r="3.1" fill="#111"/>
<circle cx="717.0" cy="185.0" r="3.1" fill="#111"/>
<circle cx="771.0" cy="86.0" r="3.1" fill="#111"/>
<circle cx="773.0" cy="115.5" r="3.1" fill="#111"/>
<circle cx="861.5" cy="114.5" r="3.1" fill="#111"/>
<circle cx="798.0" cy="191.0" r="3.1" fill="#111"/>
<circle cx="176.0" cy="206.0" r="3.1" fill="#111"/>
<circle cx="143.0" cy="224.0" r="3.1" fill="#111"/>
<circle cx="47.5" cy="259.0" r="3.1" fill="#111"/>
<circle cx="187.0" cy="267.0" r="3.1" fill="#111"/>
<circle cx="156.0" cy="276.0" r="3.1" fill="#111"/>
<circle cx="42.5" cy="320.5" r="3.1" fill="#111"/>
<circle cx="112.0" cy="307.5" r="3.1" fill="#111"/>
<circle cx="195.5" cy="335.0" r="3.1" fill="#111"/>
<circle cx="106.0" cy="349.0" r="3.1" fill="#111"/>
<circle cx="47.5" cy="369.0" r="3.1" fill="#111"/>
<circle cx="117.5" cy="370.5" r="3.1" fill="#111"/>
<circle cx="209.0" cy="410.0" r="3.1" fill="#111"/>
<circle cx="244.0" cy="286.0" r="3.1" fill="#111"/>
<circle cx="277.0" cy="233.0" r="3.1" fill="#111"/>
<circle cx="232.0" cy="255.0" r="3.1" fill="#111"/>
<circle cx="352.0" cy="212.0" r="3.1" fill="#111"/>
<circle cx="404.0" cy="276.0" r="3.1" fill="#111"/>
<circle cx="442.5" cy="322.5" r="3.1" fill="#111"/>
<circle cx="299.0" cy="319.0" r="3.1" fill="#111"/>
<circle cx="352.0" cy="335.0" r="3.1" fill="#111"/>
<circle cx="466.5" cy="207.0" r="3.1" fill="#111"/>
<circle cx="662.0" cy="271.0" r="3.1" fill="#111"/>
<circle cx="645.5" cy="294.0" r="3.1" fill="#111"/>
<circle cx="609.0" cy="337.0" r="3.1" fill="#111"/>
<circle cx="616.0" cy="344.5" r="3.1" fill="#111"/>
<circle cx="645.0" cy="345.5" r="3.1" fill="#111"/>
<circle cx="645.0" cy="222.5" r="3.1" fill="#111"/>
<circle cx="653.5" cy="247.0" r="3.1" fill="#111"/>
<circle cx="687.0" cy="278.5" r="3.1" fill="#111"/>
<circle cx="702.5" cy="277.5" r="3.1" fill="#111"/>
<circle cx="689.5" cy="207.0" r="3.1" fill="#111"/>
<circle cx="570.0" cy="396.0" r="3.1" fill="#111"/>
<circle cx="872.0" cy="207.0" r="3.1" fill="#111"/>
<circle cx="901.5" cy="254.0" r="3.1" fill="#111"/>
<circle cx="806.5" cy="276.0" r="3.1" fill="#111"/>
<circle cx="728.5" cy="308.0" r="3.1" fill="#111"/>
<circle cx="689.5" cy="324.0" r="3.1" fill="#111"/>
<circle cx="885.0" cy="321.0" r="3.1" fill="#111"/>
<circle cx="856.5" cy="331.0" r="3.1" fill="#111"/>
<circle cx="763.0" cy="393.0" r="3.1" fill="#111"/>
<circle cx="100.0" cy="432.0" r="3.1" fill="#111"/>
<circle cx="201.0" cy="434.0" r="3.1" fill="#111"/>
<circle cx="171.0" cy="489.0" r="3.1" fill="#111"/>
<circle cx="77.5" cy="530.5" r="3.1" fill="#111"/>
<circle cx="372.5" cy="404.5" r="3.1" fill="#111"/>
<circle cx="254.0" cy="434.5" r="3.1" fill="#111"/>
<circle cx="405.0" cy="446.0" r="3.1" fill="#111"/>
<circle cx="324.0" cy="464.5" r="3.1" fill="#111"/>
<circle cx="251.0" cy="492.0" r="3.1" fill="#111"/>
<circle cx="397.0" cy="519.0" r="3.1" fill="#111"/>
<circle cx="517.0" cy="414.5" r="3.1" fill="#111"/>
<circle cx="495.0" cy="469.0" r="3.1" fill="#111"/>
<circle cx="462.0" cy="497.0" r="3.1" fill="#111"/>
<circle cx="593.5" cy="473.0" r="3.1" fill="#111"/>
<circle cx="650.0" cy="496.0" r="3.1" fill="#111"/>
<circle cx="683.5" cy="547.5" r="3.1" fill="#111"/>
<circle cx="665.0" cy="430.0" r="3.1" fill="#111"/>
<circle cx="811.5" cy="472.0" r="3.1" fill="#111"/>
<circle cx="813.5" cy="527.0" r="3.1" fill="#111"/>
<text x="105.0" y="164.3" font-size="14" textLength="37.5" lengthAdjust="spacingAndGlyphs">Чайки</text>
<text x="393.0" y="82.3" font-size="14" textLength="59.0" lengthAdjust="spacingAndGlyphs">Игуменка</text>
<use href="#bl" x="19.2" y="62.0"/>
<use href="#bl" x="67.1" y="113.7"/>
<use href="#bl" x="175.7" y="129.3"/>
<use href="#bl" x="164.7" y="164.0"/>
<use href="#bl" x="235.7" y="168.2"/>
<use href="#bl" x="273.0" y="185.4"/>
<use href="#bl" x="259.5" y="107.5"/>
<use href="#bl" x="280.9" y="139.4"/>
<use href="#bl" x="311.4" y="144.5"/>
<use href="#bl" x="353.4" y="123.5"/>
<use href="#bl" x="353.5" y="151.1"/>
<use href="#bl" x="383.6" y="33.0"/>
<use href="#bl" x="447.1" y="84.5"/>
<use href="#bl" x="447.1" y="198.3"/>
<use href="#bl" x="220.1" y="209.0"/>
<use href="#bl" x="223.6" y="217.1"/>
<use href="#bl" x="197.5" y="252.5"/>
<use href="#bl" x="309.0" y="276.0"/>
<use href="#bl" x="367.0" y="289.5"/>
<use href="#bl" x="344.0" y="276.0"/>
<use href="#bl" x="446.8" y="246.3"/>
<use href="#bl" x="444.3" y="290.0"/>
<use href="#bl" x="496.5" y="295.0"/>
<use href="#bl" x="478.0" y="290.5"/>
<use href="#bl" x="428.5" y="344.5"/>
<use href="#bl" x="597.6" y="219.0"/>
<use href="#bl" x="613.8" y="227.5"/>
<use href="#bl" x="541.1" y="245.7"/>
<use href="#bl" x="821.0" y="126.5"/>
<use href="#bl" x="754.3" y="158.6"/>
<use href="#bl" x="857.0" y="174.3"/>
<use href="#or" x="572.0" y="355.5"/>
<use href="#or" x="541.5" y="382.5"/>
<use href="#or" x="340.0" y="431.0"/>
<g transform="translate(345.0,71.0)"><circle r="17.1" fill="#fbeadb"/><circle r="16" fill="#d4601a"/><use href="#truck"/></g>
<text x="27.5" y="38.8" font-size="14" textLength="58.5" lengthAdjust="spacingAndGlyphs">Стригуны</text>
<text x="111.0" y="62.8" font-size="14" textLength="61.5" lengthAdjust="spacingAndGlyphs">Калинино</text>
<text x="40.0" y="66.8" font-size="14" textLength="65.0" lengthAdjust="spacingAndGlyphs">Борисовка</text>
<text x="9.5" y="92.3" font-size="14" textLength="126.5" lengthAdjust="spacingAndGlyphs">Новоалександровка</text>
<text x="138.0" y="108.8" font-size="14" textLength="72.0" lengthAdjust="spacingAndGlyphs">Бессоновка</text>
<text x="79.0" y="138.8" font-size="14" textLength="45.0" lengthAdjust="spacingAndGlyphs">Солохи</text>
<text x="30.0" y="164.8" font-size="14" textLength="54.0" lengthAdjust="spacingAndGlyphs">Байцуры</text>
<text x="11.0" y="182.3" font-size="14" textLength="92.0" lengthAdjust="spacingAndGlyphs">Богун-Городок</text>
<text x="166.0" y="164.3" font-size="14" textLength="50.0" lengthAdjust="spacingAndGlyphs">Весёлая</text>
<text x="171.0" y="178.8" font-size="14" textLength="45.0" lengthAdjust="spacingAndGlyphs">Лопань</text>
<text x="146.0" y="193.8" font-size="14" textLength="111.5" lengthAdjust="spacingAndGlyphs">Красный Октябрь</text>
<text x="187.5" y="21.3" font-size="14" textLength="72.5" lengthAdjust="spacingAndGlyphs">Драгунское</text>
<text x="187.5" y="43.8" font-size="14" textLength="72.5" lengthAdjust="spacingAndGlyphs">Пушкарное</text>
<text x="206.5" y="88.1" font-size="14" textLength="100.0" lengthAdjust="spacingAndGlyphs">Комсомольский</text>
<text x="206.0" y="140.8" font-size="14" textLength="54.0" lengthAdjust="spacingAndGlyphs">Майский</text>
<text x="290.5" y="26.8" font-size="14" textLength="73.5" lengthAdjust="spacingAndGlyphs">Стрелецкое</text>
<text x="405.0" y="40.8" font-size="14" textLength="101.0" lengthAdjust="spacingAndGlyphs">Зелёная Поляна</text>
<text x="419.0" y="24.8" font-size="14" textLength="86.0" lengthAdjust="spacingAndGlyphs">Новосадовый</text>
<text x="396.0" y="67.3" font-size="14" textLength="53.0" lengthAdjust="spacingAndGlyphs">Ближняя</text>
<text x="325.0" y="103.8" font-size="14" textLength="53.5" lengthAdjust="spacingAndGlyphs">Дубовое</text>
<text x="288.5" y="119.8" font-size="14" textLength="44.5" lengthAdjust="spacingAndGlyphs">Репное</text>
<text x="392.5" y="115.8" font-size="14" textLength="59.5" lengthAdjust="spacingAndGlyphs">Разумное</text>
<text x="373.0" y="152.8" font-size="14" textLength="51.0" lengthAdjust="spacingAndGlyphs">Таврово</text>
<text x="277.0" y="171.8" font-size="14" textLength="68.5" lengthAdjust="spacingAndGlyphs">Шагаровка</text>
<text x="292.5" y="190.8" font-size="14" textLength="59.5" lengthAdjust="spacingAndGlyphs">Головино</text>
<text x="374.0" y="184.3" font-size="14" textLength="58.5" lengthAdjust="spacingAndGlyphs">Топлинка</text>
<text x="419.0" y="163.8" font-size="14" textLength="119.5" lengthAdjust="spacingAndGlyphs">Нижний Ольшанец</text>
<text x="451.0" y="131.8" font-size="14" textLength="46.0" lengthAdjust="spacingAndGlyphs">Крутой</text>
<text x="452.0" y="148.8" font-size="14" textLength="22.0" lengthAdjust="spacingAndGlyphs">Лог</text>
<text x="468.5" y="90.8" font-size="14" textLength="66.5" lengthAdjust="spacingAndGlyphs">Беловское</text>
<text x="470.0" y="66.8" font-size="14" textLength="70.0" lengthAdjust="spacingAndGlyphs">Севрюково</text>
<text x="507.0" y="129.8" font-size="14" textLength="70.0" lengthAdjust="spacingAndGlyphs">Кошлаково</text>
<text x="556.5" y="80.8" font-size="14" textLength="90.5" lengthAdjust="spacingAndGlyphs">Протопоповка</text>
<text x="591.5" y="127.3" font-size="14" textLength="46.5" lengthAdjust="spacingAndGlyphs">Купино</text>
<text x="558.5" y="162.8" font-size="14" textLength="76.5" lengthAdjust="spacingAndGlyphs">Дмитриевка</text>
<text x="570.0" y="182.8" font-size="14" textLength="48.0" lengthAdjust="spacingAndGlyphs">Доброе</text>
<text x="466.0" y="197.8" font-size="14" textLength="117.5" lengthAdjust="spacingAndGlyphs">Маслова Пристань</text>
<text x="657.0" y="82.3" font-size="14" textLength="51.0" lengthAdjust="spacingAndGlyphs">Красная</text>
<text x="662.0" y="98.8" font-size="14" textLength="46.0" lengthAdjust="spacingAndGlyphs">Поляна</text>
<text x="643.5" y="139.3" font-size="14" textLength="118.0" lengthAdjust="spacingAndGlyphs">Червона Дибровка</text>
<text x="623.5" y="153.8" font-size="14" textLength="111.5" lengthAdjust="spacingAndGlyphs">Первое Цепляево</text>
<text x="676.0" y="170.8" font-size="14" textLength="52.5" lengthAdjust="spacingAndGlyphs">Сурково</text>
<text x="660.0" y="188.8" font-size="14" textLength="50.0" lengthAdjust="spacingAndGlyphs">Белянка</text>
<text x="746.5" y="79.3" font-size="14" textLength="49.5" lengthAdjust="spacingAndGlyphs">Титовка</text>
<text x="708.0" y="108.8" font-size="14" textLength="113.5" lengthAdjust="spacingAndGlyphs">Большетроицкое</text>
<text x="840.0" y="129.8" font-size="14" textLength="69.0" lengthAdjust="spacingAndGlyphs">Бершаково</text>
<text x="784.0" y="155.8" font-size="14" textLength="77.0" lengthAdjust="spacingAndGlyphs">Максимовка</text>
<text x="770.0" y="177.3" font-size="14" textLength="66.0" lengthAdjust="spacingAndGlyphs">Мешковое</text>
<text x="755.0" y="195.3" font-size="14" textLength="35.0" lengthAdjust="spacingAndGlyphs">Балки</text>
<text x="96.0" y="210.8" font-size="14" textLength="72.0" lengthAdjust="spacingAndGlyphs">Церковный</text>
<text x="64.0" y="227.8" font-size="14" textLength="73.0" lengthAdjust="spacingAndGlyphs">Валковский</text>
<text x="33.0" y="250.8" font-size="14" textLength="25.0" lengthAdjust="spacingAndGlyphs">Уды</text>
<text x="106.0" y="253.8" font-size="14" textLength="70.0" lengthAdjust="spacingAndGlyphs">Малиновка</text>
<text x="93.0" y="269.8" font-size="14" textLength="87.0" lengthAdjust="spacingAndGlyphs">Красная Нива</text>
<text x="90.0" y="292.8" font-size="14" textLength="96.0" lengthAdjust="spacingAndGlyphs">Красный Хутор</text>
<text x="10.0" y="312.8" font-size="14" textLength="73.0" lengthAdjust="spacingAndGlyphs">Светличное</text>
<text x="119.0" y="312.3" font-size="14" textLength="50.0" lengthAdjust="spacingAndGlyphs">Казачья</text>
<text x="119.0" y="327.8" font-size="14" textLength="46.0" lengthAdjust="spacingAndGlyphs">Лопань</text>
<text x="174.0" y="327.8" font-size="14" textLength="76.0" lengthAdjust="spacingAndGlyphs">Журавлёвка</text>
<text x="59.5" y="341.8" font-size="14" textLength="38.5" lengthAdjust="spacingAndGlyphs">Новая</text>
<text x="48.0" y="356.8" font-size="14" textLength="50.0" lengthAdjust="spacingAndGlyphs">Казачья</text>
<text x="17.0" y="382.3" font-size="14" textLength="65.5" lengthAdjust="spacingAndGlyphs">Карасевка</text>
<text x="94.0" y="383.8" font-size="14" textLength="53.0" lengthAdjust="spacingAndGlyphs">Цуповка</text>
<text x="187.5" y="387.3" font-size="14" textLength="42.5" lengthAdjust="spacingAndGlyphs">Малые</text>
<text x="179.0" y="403.3" font-size="14" textLength="57.0" lengthAdjust="spacingAndGlyphs">Проходы</text>
<text x="204.0" y="301.3" font-size="14" textLength="58.5" lengthAdjust="spacingAndGlyphs">Петровка</text>
<text x="243.5" y="221.8" font-size="14" textLength="80.5" lengthAdjust="spacingAndGlyphs">Октябрьский</text>
<text x="283.5" y="237.8" font-size="14" textLength="67.0" lengthAdjust="spacingAndGlyphs">Салтыково</text>
<text x="238.0" y="259.3" font-size="14" textLength="75.0" lengthAdjust="spacingAndGlyphs">Толоконное</text>
<text x="318.5" y="257.3" font-size="14" textLength="58.5" lengthAdjust="spacingAndGlyphs">Бочковка</text>
<text x="359.0" y="216.8" font-size="14" textLength="74.0" lengthAdjust="spacingAndGlyphs">Никольское</text>
<text x="367.0" y="244.8" font-size="14" textLength="60.0" lengthAdjust="spacingAndGlyphs">Графовка</text>
<text x="364.0" y="270.8" font-size="14" textLength="68.0" lengthAdjust="spacingAndGlyphs">Зиборовка</text>
<text x="437.0" y="270.8" font-size="14" textLength="99.0" lengthAdjust="spacingAndGlyphs">Архангельское</text>
<text x="267.5" y="305.8" font-size="14" textLength="74.5" lengthAdjust="spacingAndGlyphs">Ясные Зори</text>
<text x="336.0" y="317.8" font-size="14" textLength="59.0" lengthAdjust="spacingAndGlyphs">Нечаевка</text>
<text x="413.5" y="314.8" font-size="14" textLength="54.5" lengthAdjust="spacingAndGlyphs">Шамино</text>
<text x="450.0" y="327.8" font-size="14" textLength="73.0" lengthAdjust="spacingAndGlyphs">Нехотеевка</text>
<text x="268.0" y="334.3" font-size="14" textLength="52.0" lengthAdjust="spacingAndGlyphs">Лозовое</text>
<text x="318.0" y="350.8" font-size="14" textLength="72.0" lengthAdjust="spacingAndGlyphs">Вергилевка</text>
<text x="405.5" y="371.8" font-size="14" textLength="42.5" lengthAdjust="spacingAndGlyphs">Муром</text>
<text x="430.0" y="385.8" font-size="14" textLength="90.0" lengthAdjust="spacingAndGlyphs">Синельниково</text>
<text x="473.0" y="214.8" font-size="14" textLength="47.5" lengthAdjust="spacingAndGlyphs">Ржавец</text>
<text x="532.0" y="220.8" font-size="14" textLength="46.0" lengthAdjust="spacingAndGlyphs">Ржевка</text>
<text x="461.0" y="247.8" font-size="14" textLength="69.0" lengthAdjust="spacingAndGlyphs">Шебекино</text>
<text x="561.5" y="254.8" font-size="14" textLength="87.5" lengthAdjust="spacingAndGlyphs">Вознесеновка</text>
<text x="585.5" y="275.3" font-size="14" textLength="68.5" lengthAdjust="spacingAndGlyphs">Ленинский</text>
<text x="516.0" y="292.8" font-size="14" textLength="37.5" lengthAdjust="spacingAndGlyphs">Новая</text>
<text x="517.0" y="310.3" font-size="14" textLength="74.0" lengthAdjust="spacingAndGlyphs">Таволжанка</text>
<text x="620.0" y="308.8" font-size="14" textLength="55.0" lengthAdjust="spacingAndGlyphs">Марьино</text>
<text x="588.0" y="328.8" font-size="14" textLength="37.0" lengthAdjust="spacingAndGlyphs">Тихое</text>
<text x="493.0" y="355.8" font-size="14" textLength="58.0" lengthAdjust="spacingAndGlyphs">Волчанск</text>
<text x="598.5" y="360.8" font-size="14" textLength="73.5" lengthAdjust="spacingAndGlyphs">Волчанские</text>
<text x="613.5" y="375.8" font-size="14" textLength="43.5" lengthAdjust="spacingAndGlyphs">Хутора</text>
<text x="651.0" y="350.8" font-size="14" textLength="68.0" lengthAdjust="spacingAndGlyphs">Покаляное</text>
<text x="652.0" y="226.8" font-size="14" textLength="108.0" lengthAdjust="spacingAndGlyphs">Маломихайловка</text>
<text x="661.0" y="251.8" font-size="14" textLength="100.5" lengthAdjust="spacingAndGlyphs">Белокриничный</text>
<text x="667.0" y="293.3" font-size="14" textLength="53.0" lengthAdjust="spacingAndGlyphs">Красное</text>
<text x="711.0" y="282.3" font-size="14" textLength="41.0" lengthAdjust="spacingAndGlyphs">Мухин</text>
<text x="696.0" y="212.3" font-size="14" textLength="120.5" lengthAdjust="spacingAndGlyphs">Козьмодемьяновка</text>
<text x="546.0" y="411.8" font-size="14" textLength="44.0" lengthAdjust="spacingAndGlyphs">Вильча</text>
<text x="838.0" y="221.8" font-size="14" textLength="66.0" lengthAdjust="spacingAndGlyphs">Дегтярное</text>
<text x="839.0" y="257.3" font-size="14" textLength="54.0" lengthAdjust="spacingAndGlyphs">Тишанка</text>
<text x="776.0" y="290.8" font-size="14" textLength="74.0" lengthAdjust="spacingAndGlyphs">Варваровка</text>
<text x="736.0" y="312.8" font-size="14" textLength="70.5" lengthAdjust="spacingAndGlyphs">Охримовка</text>
<text x="694.5" y="334.8" font-size="14" textLength="51.5" lengthAdjust="spacingAndGlyphs">Бочково</text>
<text x="842.0" y="312.8" font-size="14" textLength="64.0" lengthAdjust="spacingAndGlyphs">Лошаково</text>
<text x="823.5" y="346.8" font-size="14" textLength="66.5" lengthAdjust="spacingAndGlyphs">Резниково</text>
<text x="770.0" y="397.8" font-size="14" textLength="60.0" lengthAdjust="spacingAndGlyphs">Ивановка</text>
<text x="43.0" y="435.8" font-size="14" textLength="51.0" lengthAdjust="spacingAndGlyphs">Слатино</text>
<text x="140.5" y="437.8" font-size="14" textLength="52.5" lengthAdjust="spacingAndGlyphs">Великие</text>
<text x="136.0" y="453.8" font-size="14" textLength="57.0" lengthAdjust="spacingAndGlyphs">Проходы</text>
<text x="147.5" y="502.3" font-size="14" textLength="48.5" lengthAdjust="spacingAndGlyphs">Русская</text>
<text x="146.0" y="517.8" font-size="14" textLength="51.5" lengthAdjust="spacingAndGlyphs">Лозовая</text>
<text x="50.0" y="524.8" font-size="14" textLength="52.0" lengthAdjust="spacingAndGlyphs">Дергачи</text>
<text x="379.0" y="409.8" font-size="14" textLength="44.0" lengthAdjust="spacingAndGlyphs">Середа</text>
<text x="251.0" y="428.8" font-size="14" textLength="66.5" lengthAdjust="spacingAndGlyphs">Нескучное</text>
<text x="231.0" y="449.8" font-size="14" textLength="42.5" lengthAdjust="spacingAndGlyphs">Липцы</text>
<text x="376.0" y="439.8" font-size="14" textLength="59.0" lengthAdjust="spacingAndGlyphs">Терновая</text>
<text x="302.0" y="478.8" font-size="14" textLength="51.5" lengthAdjust="spacingAndGlyphs">Весёлое</text>
<text x="257.0" y="499.3" font-size="14" textLength="49.0" lengthAdjust="spacingAndGlyphs">Русские</text>
<text x="257.0" y="514.8" font-size="14" textLength="40.0" lengthAdjust="spacingAndGlyphs">Тишки</text>
<text x="367.0" y="532.8" font-size="14" textLength="61.0" lengthAdjust="spacingAndGlyphs">Перемога</text>
<text x="486.5" y="430.8" font-size="14" textLength="59.0" lengthAdjust="spacingAndGlyphs">Графское</text>
<text x="468.5" y="462.8" font-size="14" textLength="62.0" lengthAdjust="spacingAndGlyphs">Рубежное</text>
<text x="470.0" y="501.8" font-size="14" textLength="69.0" lengthAdjust="spacingAndGlyphs">Жовтневое</text>
<text x="566.0" y="487.8" font-size="14" textLength="53.0" lengthAdjust="spacingAndGlyphs">Польная</text>
<text x="655.0" y="500.8" font-size="14" textLength="51.0" lengthAdjust="spacingAndGlyphs">Котовка</text>
<text x="645.0" y="539.8" font-size="14" textLength="74.5" lengthAdjust="spacingAndGlyphs">Кирилловка</text>
<text x="673.0" y="434.3" font-size="14" textLength="103.5" lengthAdjust="spacingAndGlyphs">Белый Колодезь</text>
<text x="771.5" y="464.8" font-size="14" textLength="83.5" lengthAdjust="spacingAndGlyphs">Приколотное</text>
<text x="770.0" y="520.8" font-size="14" textLength="82.0" lengthAdjust="spacingAndGlyphs">Новосёловка</text>
<text style="stroke:none" x="296.0" y="52.0" font-size="23" textLength="96.0" lengthAdjust="spacingAndGlyphs">Белгород</text>
<text style="stroke:none" x="793.0" y="47.0" font-size="23" textLength="84.0" lengthAdjust="spacingAndGlyphs">РОССИЯ</text>
<text style="stroke:none" x="557.0" y="462.0" font-size="23" textLength="181.0" lengthAdjust="spacingAndGlyphs">Харьковская обл.</text>
</g>
<rect x="0" y="560.5" width="912" height="239.5" fill="#fff"/>
<text style="stroke-width:0.2px" x="21.0" y="589.4" font-size="14.2" textLength="264.0" lengthAdjust="spacingAndGlyphs">Взяты под контроль Россией, ДНР и ЛНР:</text>
<text style="stroke-width:0.2px" x="44.0" y="622.4" font-size="14.2" textLength="231.0" lengthAdjust="spacingAndGlyphs">Территории с начала спецоперации</text>
<text style="stroke-width:0.2px" x="44.0" y="656.4" font-size="14.2" textLength="207.5" lengthAdjust="spacingAndGlyphs">Продвижение российских войск</text>
<text style="stroke-width:0.2px" x="44.0" y="673.4" font-size="14.2" textLength="172.5" lengthAdjust="spacingAndGlyphs">по сообщениям военкоров</text>
<text style="stroke-width:0.2px" x="355.0" y="621.4" font-size="14.2" textLength="221.0" lengthAdjust="spacingAndGlyphs">Удары России по наземным целям</text>
<text style="stroke-width:0.2px" x="355.0" y="656.4" font-size="14.2" textLength="228.5" lengthAdjust="spacingAndGlyphs">Удары России по воздушным целям</text>
<text style="stroke-width:0.2px" x="355.0" y="690.9" font-size="14.2" textLength="232.0" lengthAdjust="spacingAndGlyphs">Удары Украины по наземным целям</text>
<text style="stroke-width:0.2px" x="660.0" y="621.4" font-size="14.2" textLength="235.0" lengthAdjust="spacingAndGlyphs">Освобожденные населенные пункты</text>
<text style="stroke-width:0.2px" x="660.0" y="638.9" font-size="14.2" textLength="121.0" lengthAdjust="spacingAndGlyphs">за минувшие сутки</text>
<text style="stroke-width:0.2px" x="660.0" y="668.4" font-size="14.2" textLength="111.0" lengthAdjust="spacingAndGlyphs">Боестолкновения</text>
<text style="stroke-width:0.2px" x="20.0" y="733.9" font-size="14.2" textLength="576.0" lengthAdjust="spacingAndGlyphs">Источники: Минобороны России, Народные милиции ЛНР и ДНР, РИА Новости, военкоры</text>
<rect x="19.7" y="609.3" width="16.5" height="16.2" fill="#f3b3b7"/>
<rect x="19.7" y="644" width="16.5" height="15.8" fill="#a765c9"/>
<g transform="translate(330,614.5) scale(0.906)"><circle r="16" fill="#d2611b"/><use href="#burst" stroke="#fbdcb8" y="0"/></g>
<g transform="translate(330,650) scale(0.906)"><circle r="16" fill="#d2611b"/><use href="#truck"/></g>
<g transform="translate(330,686) scale(0.906)"><circle r="16" fill="#2c7edc"/><use href="#burst" stroke="#bfdfff" y="0"/></g>
<g transform="translate(635.3,615.8)"><circle r="14.3" fill="#5fc25f"/><g fill="none" stroke="#e6fae0" stroke-width="1.1" stroke-linejoin="round" stroke-linecap="round"><path d="M-10.8 7.4H11.2M-10 7.4V-2.2H10.4V7.4M-10.8 -2.2H11.2M-3.6 -2.2L0.2 -5.6L4 -2.2M0.2 -5.6V-11.2H3.4V-9H0.2"/><path d="M-8 0.4H8.4M-8 2.6H8.4M-8 4.8H-2.2M2.6 4.8H8.4" stroke-width="1.2" stroke-dasharray="1.3 0.9" stroke-linecap="butt"/><path d="M-1 7.4V4H1.4V7.4" stroke-width="0.9"/></g></g>
<g transform="translate(634.8,661.6)"><circle r="14.5" fill="#3a3a3a"/><g fill="none" stroke="#f0f0f0" stroke-width="1.1" stroke-linejoin="round" stroke-linecap="round"><path d="M-12 2.5L-11.5 -0.5L-7 -1.5L-4.5 -0.8L11 -5L11.6 -3.6L6 -1.8L6 -0.6L2 0.4L3.5 4.8L1.6 5.6L-0.8 1.4L-3.6 2L-4 4L-5.6 4.2L-5.6 2.2L-8 2.4L-9 3.8Z"/><path d="M-7 -1.5L-6.6 2.2M-2 -1.4L-1.6 1.4M1 -2.2V0.4"/></g></g>
<rect x="20" y="752" width="873" height="1.2" fill="#555"/>
<g font-weight="bold" font-style="italic"><text x="242" y="780.6" font-size="13.4" textLength="85" lengthAdjust="spacingAndGlyphs" style="fill:#cf1f2b;stroke:#cf1f2b;stroke-width:0.7px">АРГУМЕНТЫ</text><text x="232.5" y="790.4" font-size="13" textLength="58.5" lengthAdjust="spacingAndGlyphs" style="fill:#cf1f2b;stroke:#cf1f2b;stroke-width:0.7px">ИФАКТЫ</text></g>
<text x="291.8" y="790.2" font-size="9.2" textLength="27" lengthAdjust="spacingAndGlyphs" style="fill:#3a3a3a;stroke:none">AIF.RU</text>
<g transform="translate(341.6,771.3)"><rect width="17.6" height="18.2" rx="1.5" fill="#2ca5e0"/><path d="M2.6 8.9L14.6 4.2L12.6 14.2L8.8 11.4L7 13.2L6.6 10.2L12.4 5.6L5.6 9.8Z" fill="#fff"/></g>
<text style="stroke:none;fill:#2b2b2b" x="364.7" y="784.5" font-size="13" textLength="80.8" lengthAdjust="spacingAndGlyphs">/t.me/aifonline</text>
<g transform="translate(460,771.3)"><rect width="17.6" height="18.2" rx="1.5" fill="#4a76a8"/><rect x="3.8" y="4" width="10" height="10.2" rx="2" fill="#fff"/><text x="5.6" y="12.6" font-size="9" font-weight="bold" style="fill:#4a76a8;stroke:none">B</text></g>
<text style="stroke:none;fill:#2b2b2b" x="482.9" y="784.5" font-size="13" textLength="35.0" lengthAdjust="spacingAndGlyphs">/aif_ru</text>
<g transform="translate(532.9,771.3)"><rect width="18.2" height="18.2" rx="1.5" fill="#7360f2"/><path d="M5.2 4.6C4.2 5.4 4.4 7 5.6 9C6.8 11 8.6 12.8 10.6 13.6C12 14.2 13 13.6 13.4 12.6L11.4 11L10.4 11.8C9 11.2 7.6 9.8 7 8.4L7.8 7.4L6.4 4.4Z" fill="#fff"/><path d="M9.2 4.4C11.6 4.6 13.4 6.4 13.6 8.8M9.4 6.2C10.8 6.4 11.6 7.2 11.8 8.6" fill="none" stroke="#fff" stroke-width="0.9" stroke-linecap="round"/></g>
<text style="stroke:none;fill:#2b2b2b" x="556.6" y="784.5" font-size="13" textLength="56.6" lengthAdjust="spacingAndGlyphs">/vb.me/aif</text>
<g transform="translate(627.6,771.3)"><rect width="18.4" height="18.2" rx="1.5" fill="#ee8233"/><circle cx="9.2" cy="6.4" r="2.2" fill="none" stroke="#fff" stroke-width="1.4"/><path d="M6 10.2C8 11.6 10.4 11.6 12.4 10.2M9.2 11.4V13M9.2 12.4L6.8 15M9.2 12.4L11.6 15" fill="none" stroke="#fff" stroke-width="1.4" stroke-linecap="round"/></g>
<text style="stroke:none;fill:#2b2b2b" x="651.3" y="784.5" font-size="13" textLength="29.0" lengthAdjust="spacingAndGlyphs">/aifru</text>
</svg></body></html>
